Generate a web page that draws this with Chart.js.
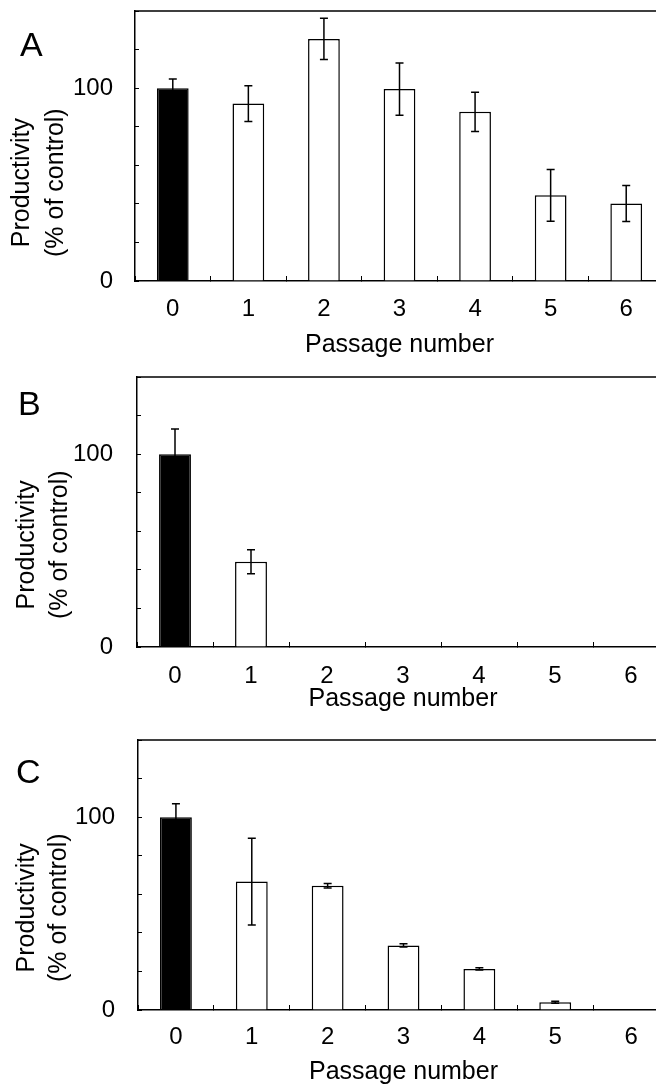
<!DOCTYPE html>
<html>
<head>
<meta charset="utf-8">
<script src="https://cdn.jsdelivr.net/npm/chart.js@4.4.1/dist/chart.umd.min.js"></script>
<style>
  html, body { margin: 0; padding: 0; background: #fff; overflow: hidden; width: 656px; height: 1084px; }
  canvas { position: absolute; left: 0; }
</style>
</head>
<body>
<canvas id="chartA"></canvas>
<canvas id="chartB"></canvas>
<canvas id="chartC"></canvas>
<script>
// passage numbers (x categories)
const passages = ['0', '1', '2', '3', '4', '5', '6'];
// y tick values that carry a label
const labelledTicks = [0, 100];

// panel A
const productivityA = [100, 92, 125.5, 99.5, 87.7, 44.4, 40.2];
const errorA = [4.7, 9.3, 10.7, 13.6, 10.2, 13.4, 9.3];
// panel B
const productivityB = [100, 44.2, 0, 0, 0, 0, 0];
const errorB = [13, 6.2, 0, 0, 0, 0, 0];
// panel C
const productivityC = [100, 66.6, 64.4, 33.5, 21.3, 4, 0];
const errorC = [7, 22.5, 1.2, 0.8, 0.6, 0.5, 0];

const FONT = '"Liberation Sans", Arial, Helvetica, sans-serif';
Chart.defaults.font.family = FONT;
Chart.defaults.color = '#000';

// error bars drawn over the bars
const errorBars = {
  id: 'errorBars',
  afterDatasetsDraw(chart, args, opts) {
    const { ctx, scales: { y } } = chart;
    const meta = chart.getDatasetMeta(0);
    const vals = chart.data.datasets[0].data;
    ctx.save();
    ctx.strokeStyle = '#000';
    ctx.lineWidth = 1.5;
    meta.data.forEach((bar, i) => {
      const e = opts.errors[i];
      if (!e) return;
      const x = bar.x;
      const top = y.getPixelForValue(vals[i] + e);
      const bot = y.getPixelForValue(vals[i] - e);
      ctx.beginPath();
      ctx.moveTo(x, top); ctx.lineTo(x, bot);
      ctx.moveTo(x - 4, top); ctx.lineTo(x + 4, top);
      ctx.moveTo(x - 4, bot); ctx.lineTo(x + 4, bot);
      ctx.stroke();
    });
    ctx.restore();
  }
};

// frame top/right, panel letter and two-line y title
const panelText = {
  id: 'panelText',
  afterDraw(chart, args, opts) {
    const { ctx, chartArea, scales } = chart;
    ctx.save();
    ctx.strokeStyle = '#000';
    ctx.lineWidth = 1.5;
    ctx.beginPath();
    ctx.moveTo(chartArea.left, chartArea.top);
    ctx.lineTo(chartArea.right, chartArea.top);
    ctx.lineTo(chartArea.right, chartArea.bottom);
    ctx.stroke();

    ctx.fillStyle = '#000';
    ctx.font = '34px ' + FONT;
    ctx.textAlign = 'left';
    ctx.textBaseline = 'alphabetic';
    ctx.fillText(opts.letter, opts.letterX, chartArea.top + opts.letterDy);

    const yc = scales.y.getPixelForValue(opts.titleAt);
    ctx.font = '25px ' + FONT;
    ctx.textAlign = 'center';
    ctx.textBaseline = 'middle';
    ['Productivity', '(% of control)'].forEach((t, k) => {
      ctx.save();
      ctx.translate(opts.titleX[k], yc);
      ctx.rotate(-Math.PI / 2);
      ctx.fillText(t, 0, 0);
      ctx.restore();
    });
    ctx.restore();
  }
};

const panels = [
  { id: 'chartA', letter: 'A', values: productivityA, errors: errorA,
    top: 11, left: 135, right: 664, letterX: 20, letterDy: 45, titleX: [22, 56], titleAt: 51,
    yPad: 26, xPad: 19, titlePad: 11 },
  { id: 'chartB', letter: 'B', values: productivityB, errors: errorB,
    top: 377, left: 137, right: 669, letterX: 18, letterDy: 38, titleX: [27, 60], titleAt: 53,
    yPad: 28, xPad: 19.5, titlePad: 23 },
  { id: 'chartC', letter: 'C', values: productivityC, errors: errorC,
    top: 740, left: 138, right: 669, letterX: 16, letterDy: 43, titleX: [27, 59], titleAt: 53,
    yPad: 27, xPad: 17.5, titlePad: 12.5 }
];

const W = 690, PADTOP = 50, PLOTH = 270, XH = 90;

panels.forEach(p => {
  const cv = document.getElementById(p.id);
  cv.width = W;
  cv.height = PADTOP + PLOTH + XH;
  cv.style.top = (p.top - PADTOP) + 'px';

  new Chart(cv, {
    type: 'bar',
    data: {
      labels: passages,
      datasets: [{
        data: p.values,
        backgroundColor: p.values.map((v, i) => i === 0 ? '#000' : '#fff'),
        borderColor: '#000',
        borderWidth: 1.5,
        barPercentage: 0.42,
        categoryPercentage: 1
      }]
    },
    options: {
      responsive: false,
      animation: false,
      layout: { padding: { top: PADTOP, left: 0, right: W - p.right, bottom: 0 } },
      plugins: {
        legend: { display: false },
        tooltip: { enabled: false },
        errorBars: { errors: p.errors },
        panelText: p
      },
      scales: {
        x: {
          grid: { drawOnChartArea: false, drawTicks: true, tickLength: -5, color: '#000', lineWidth: 1 },
          border: { display: true, color: '#000', width: 1.5 },
          ticks: { font: { size: 24 }, padding: p.xPad, maxRotation: 0 },
          title: { display: true, text: 'Passage number', font: { size: 25 }, padding: { top: 0, bottom: p.titlePad } },
          afterFit(s) { s.height = XH; }
        },
        y: {
          min: 0, max: 140,
          grid: { drawOnChartArea: false, drawTicks: true, tickLength: -4, color: '#000', lineWidth: 1 },
          border: { display: true, color: '#000', width: 1.5 },
          ticks: {
            stepSize: 20,
            font: { size: 24 },
            padding: p.yPad,
            callback: v => labelledTicks.includes(v) ? String(v) : ''
          },
          afterFit(s) { s.width = p.left; }
        }
      }
    },
    plugins: [errorBars, panelText]
  });
});
</script>
</body>
</html>
